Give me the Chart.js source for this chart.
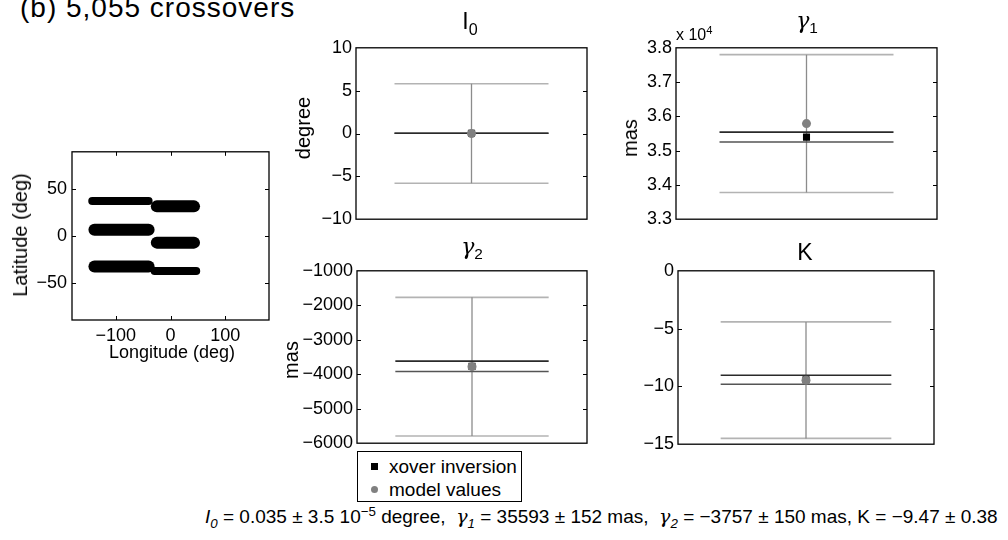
<!DOCTYPE html>
<html>
<head>
<meta charset="utf-8">
<script src="https://cdn.jsdelivr.net/npm/chart.js@4/dist/chart.umd.min.js"></script>
<style>
  body { margin: 0; background: #fff; }
  #fig { position: relative; width: 1008px; height: 540px; overflow: hidden; background: #fff;
         font-family: 'Liberation Sans', Arial, sans-serif; color: #000; }
  canvas { position: absolute; }
  .txt { position: absolute; white-space: pre; line-height: 1; }
  .ctr { transform: translateX(-50%); }
  .rot { transform: translate(-50%, -50%) rotate(-90deg); }
  .g { font-family: 'DejaVu Serif', serif; font-style: italic; }
  sub, sup { font-size: 70%; line-height: 0; }
  #legend { position: absolute; left: 357px; top: 451px; width: 163px; height: 49px;
            border: 1.3px solid #000; background: #fff; font-size: 19px; }
  .lg { position: absolute; left: 31px; }
  .mk { position: absolute; left: 13px; width: 7px; height: 7px; }
</style>
</head>
<body>
<div id="fig">
  <div class="txt" style="left:20px; top:-6px; font-size:28px; letter-spacing:1px;">(b) 5,055 crossovers</div>

  <canvas id="map"></canvas>
  <canvas id="p0"></canvas>
  <canvas id="p1"></canvas>
  <canvas id="p2"></canvas>
  <canvas id="p3"></canvas>

  <div class="txt rot" style="left:20px; top:235px; font-size:20px;">Latitude (deg)</div>
  <div class="txt ctr" style="left:172px; top:343px; font-size:18px;">Longitude (deg)</div>

  <div class="txt ctr" style="left:470px; top:10px; font-size:23px;">I<sub>0</sub></div>
  <div class="txt ctr" style="left:807px; top:10px; font-size:22px;"><span class="g">γ</span><sub>1</sub></div>
  <div class="txt ctr" style="left:472px; top:236px; font-size:22px;"><span class="g">γ</span><sub>2</sub></div>
  <div class="txt ctr" style="left:805px; top:241px; font-size:23px;">K</div>
  <div class="txt" style="left:676px; top:27px; font-size:16px;">x 10<sup>4</sup></div>

  <div class="txt rot" style="left:303px; top:128px; font-size:20px;">degree</div>
  <div class="txt rot" style="left:630px; top:138px; font-size:20px;">mas</div>
  <div class="txt rot" style="left:291px; top:360px; font-size:20px;">mas</div>

  <div id="legend">
    <div class="mk" style="top:11px; background:#000;"></div>
    <div class="lg" style="top:4px;">xover inversion</div>
    <div class="mk" style="top:34px; background:#808080; border-radius:50%;"></div>
    <div class="lg" style="top:27px;">model values</div>
  </div>

  <div class="txt" style="left:205px; top:507px; font-size:19px;"><i>I<sub>0</sub></i> = 0.035 ± 3.5 10<sup>−5</sup> degree,  <span class="g">γ</span><sub><i>1</i></sub> = 35593 ± 152 mas,  <span class="g">γ</span><sub><i>2</i></sub> = −3757 ± 150 mas, K = −9.47 ± 0.38</div>
</div>

<script>
// crossover map: each band is a run of crossover points along one latitude
const bandLonStart = [-143, -25, -139, -25, -139, -29]
const bandLonEnd = [-40, 43, -40, 43, -40, 47]
const bandLat = [37.4, 31.6, 6.5, -7.2, -32.7, -37.5]
const mapLonTicks = [-100, 0, 100]
const mapLatTicks = [-50, 0, 50]

// the four parameter panels: I0, gamma1, gamma2, K
const panelNames = ['I0', 'gamma1', 'gamma2', 'K']
const modelValues = [0, 35790, -3780, -9.46]
const modelErrors = [5.8, 2010, 2010, 5.04]
const xoverValues = [0.035, 35395, -3771, -9.42]
const xoverErrors = [0.000035, 145, 150, 0.39]
const yMins = [-10, 33000, -6000, -15]
const yMaxs = [10, 38000, -1000, 0]
const yTickValues = [
    [-10, -5, 0, 5, 10],
    [33000, 34000, 35000, 36000, 37000, 38000],
    [-6000, -5000, -4000, -3000, -2000, -1000],
    [-15, -10, -5, 0]
]
const tickScale = [1, 10000, 1, 1]   // gamma1 axis is shown in units of 10^4

const tickFont = {family: "'Liberation Sans', Arial, sans-serif", size: 18}

function minus(v) {
    return String(v).replace('-', '\u2212')
}

// matlab style box with inward ticks on every side
const boxPlugin = {
    id: 'box',
    afterDraw(chart) {
        let ctx = chart.ctx
        let a = chart.chartArea
        ctx.save()
        ctx.strokeStyle = '#000'
        ctx.lineWidth = 1.3
        ctx.strokeRect(a.left, a.top, a.right - a.left, a.bottom - a.top)
        ctx.lineWidth = 1
        let ys = chart.scales.y
        ys.ticks.forEach(t => {
            if (t.value == ys.min || t.value == ys.max) return
            let py = Math.round(ys.getPixelForValue(t.value)) + 0.5
            ctx.beginPath()
            ctx.moveTo(a.left, py); ctx.lineTo(a.left + 4, py)
            ctx.moveTo(a.right, py); ctx.lineTo(a.right - 4, py)
            ctx.stroke()
        })
        let xs = chart.scales.x
        if (xs.options.display) {
            xs.ticks.forEach(t => {
                let px = Math.round(xs.getPixelForValue(t.value)) + 0.5
                ctx.beginPath()
                ctx.moveTo(px, a.top); ctx.lineTo(px, a.top + 4)
                ctx.moveTo(px, a.bottom); ctx.lineTo(px, a.bottom - 4)
                ctx.stroke()
            })
        }
        ctx.restore()
    }
}

function placeCanvas(id, left, top, width, height, padL, padT, padR, padB) {
    let c = document.getElementById(id)
    c.width = width + padL + padR
    c.height = height + padT + padB
    c.style.left = (left - padL) + 'px'
    c.style.top = (top - padT) + 'px'
    return c.getContext('2d')
}

/* map of crossover locations */
let mapCtx = placeCanvas('map', 72, 148, 197, 172, 60, 12, 6, 32)
let mapDatasets = []
for (let i = 0; i < bandLat.length; i++) {
    let thick = [8, 12, 12, 12, 12, 8][i]
    mapDatasets.push({
        data: [{x: bandLonStart[i], y: bandLat[i]}, {x: bandLonEnd[i], y: bandLat[i]}],
        borderColor: '#000',
        borderWidth: thick,
        borderCapStyle: 'round',
        pointRadius: 0
    })
}
new Chart(mapCtx, {
    type: 'line',
    data: {datasets: mapDatasets},
    options: {
        responsive: false,
        animation: false,
        devicePixelRatio: 1,
        layout: {padding: {top: 12, right: 6, bottom: 0, left: 0}},
        plugins: {legend: {display: false}, tooltip: {enabled: false}},
        scales: {
            x: {
                type: 'linear', min: -180, max: 180,
                afterBuildTicks: s => { s.ticks = mapLonTicks.map(v => ({value: v})) },
                afterFit: s => { s.height = 32 },
                grid: {display: false, drawTicks: false},
                border: {display: false},
                ticks: {padding: 5, color: '#000', font: tickFont, callback: v => minus(v)}
            },
            y: {
                type: 'linear', min: -90, max: 90,
                afterBuildTicks: s => { s.ticks = mapLatTicks.map(v => ({value: v})) },
                afterFit: s => { s.width = 60 },
                grid: {display: false, drawTicks: false},
                border: {display: false},
                ticks: {padding: 5, color: '#000', font: tickFont, callback: v => minus(v)}
            }
        }
    },
    plugins: [boxPlugin]
})

/* parameter panels */
const panelRects = [
    [356, 45, 231, 177],
    [676, 45, 261, 177],
    [357, 268, 230, 178],
    [678, 268, 256, 179]
]
// error bar caps run from 0.5 to 2.5 on a 0..3 x axis, centred at 1.5
const capLeft = 0.5, capRight = 2.5, barX = 1.5

panelNames.forEach((name, i) => {
    let r = panelRects[i]
    let ctx = placeCanvas('p' + i, r[0], r[1], r[2], r[3], 80, 12, 6, 12)
    let m = modelValues[i], e = modelErrors[i]
    let xv = xoverValues[i], xe = xoverErrors[i]
    let hline = (y, color, w, order) => ({
        data: [{x: capLeft, y: y}, {x: capRight, y: y}],
        borderColor: color, borderWidth: w, pointRadius: 0, order: order
    })
    let datasets = [
        {
            data: [{x: barX, y: m}],
            showLine: false, pointStyle: 'circle', pointRadius: 4.5,
            backgroundColor: '#808080', borderColor: '#808080', borderWidth: 0, order: 0
        },
        {
            data: [{x: barX, y: xv}],
            showLine: false, pointStyle: 'rect', pointRadius: 5,
            backgroundColor: '#000', borderColor: '#000', borderWidth: 0, order: 1
        },
        hline(xv + xe, '#2a2a2a', 1.6, 2),
        hline(xv - xe, '#555', 1.6, 2),
        {
            data: [{x: barX, y: m - e}, {x: barX, y: m + e}],
            borderColor: '#8c8c8c', borderWidth: 1.3, pointRadius: 0, order: 3
        },
        hline(m + e, '#b3b3b3', 1.6, 4),
        hline(m - e, '#b3b3b3', 1.6, 4)
    ]
    new Chart(ctx, {
        type: 'line',
        data: {datasets: datasets},
        options: {
            responsive: false,
            animation: false,
            devicePixelRatio: 1,
            layout: {padding: {top: 12, right: 6, bottom: 12, left: 0}},
            plugins: {legend: {display: false}, tooltip: {enabled: false}},
            scales: {
                x: {type: 'linear', min: 0, max: 3, display: false},
                y: {
                    type: 'linear', min: yMins[i], max: yMaxs[i],
                    afterBuildTicks: s => { s.ticks = yTickValues[i].map(v => ({value: v})) },
                    afterFit: s => { s.width = 80 },
                    grid: {display: false, drawTicks: false},
                    border: {display: false},
                    ticks: {padding: 4, color: '#000', font: tickFont, callback: v => minus(v / tickScale[i])}
                }
            }
        },
        plugins: [boxPlugin]
    })
})
</script>
</body>
</html>
